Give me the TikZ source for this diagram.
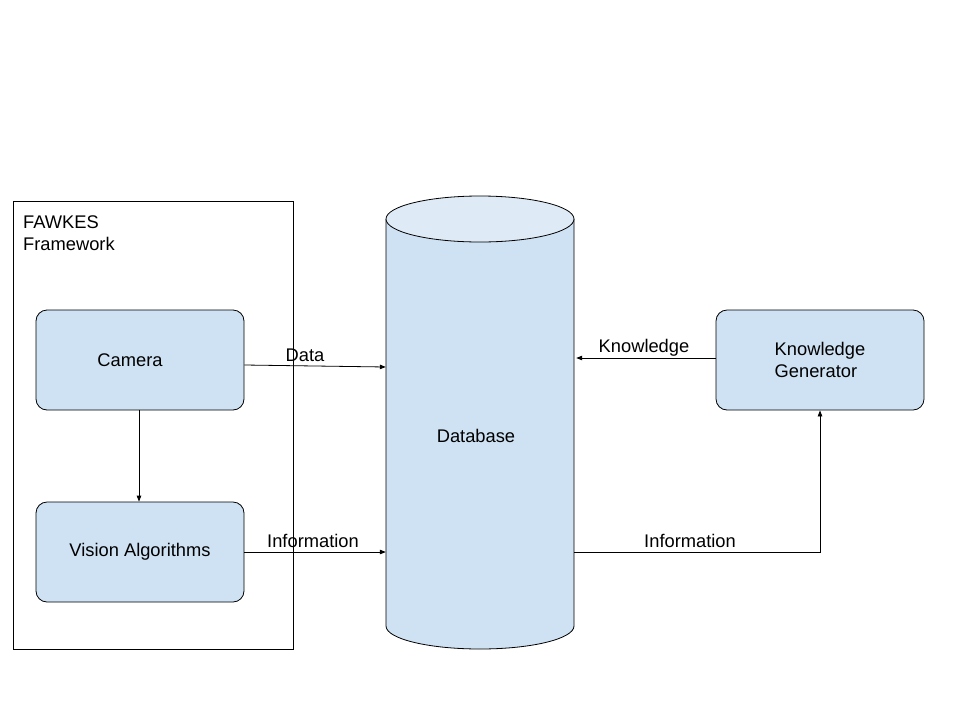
\documentclass[tikz,border=0pt]{standalone}
\usepackage{fontspec}
\setmainfont{Liberation Sans}
\usetikzlibrary{arrows.meta,calc}
\definecolor{boxfill}{HTML}{CFE2F3}
\definecolor{topfill}{HTML}{DEEAF6}
\begin{document}
\begin{tikzpicture}[x=1pt,y=-1pt,
  txt/.style={font=\fontsize{18.3}{22}\selectfont},
  box/.style={draw, fill=boxfill, rounded corners=11pt, minimum width=208pt, minimum height=100pt, line width=0.8pt, txt, align=left},
  conn/.style={-{Triangle[length=6pt,width=4.5pt]}, line width=0.8pt},
  lbl/.style={txt, inner sep=0pt}]
\useasboundingbox (0,0) rectangle (960,720);
% frame
\node[draw, line width=0.8pt, minimum width=280pt, minimum height=448pt, inner sep=0pt] (frame) at (153,425) {};
\node[txt, align=left, anchor=north west, inner sep=0pt] (fwtxt) at (23,216) {FAWKES\\Framework};
% boxes
\node[box] (cam) at (140,360) {\raisebox{-2pt}{Camera}\hspace*{20pt}};
\node[box] (vis) at (140,552) {\raisebox{-2pt}{Vision Algorithms}};
\node[box] (kg) at (820,360) {Knowledge\\Generator};
% database cylinder
\node[minimum width=188pt, minimum height=453pt, inner sep=0pt] (db) at (480,422.5) {};
\fill[boxfill] (386,219) -- (386,626) arc[start angle=180, end angle=0, x radius=94, y radius=23] -- (574,219) -- cycle;
\draw[line width=0.8pt] (386,219) -- (386,626) arc[start angle=180, end angle=0, x radius=94, y radius=23] -- (574,219);
\draw[line width=0.8pt, fill=topfill] (480,219) ellipse [x radius=94, y radius=23];
\node[txt] (dbtxt) at (476,436) {Database};
% connectors
\draw[conn] ($(cam.east)+(0,5)$) -- ($(db.west |- cam.east)+(0,7)$);
\draw[conn] ($(cam.south)+(-1,0)$) -- ($(vis.north)+(-1,0)$);
\draw[conn] (vis.east) -- (db.west |- vis.east);
\draw[conn] ($(kg.west)+(0,-2)$) -- ($(db.east |- kg.west)+(2,-2)$);
\draw[conn] (db.east |- vis.east) -| (kg.south);
% labels
\node[lbl] (l1) at (305,355) {Data};
\node[lbl] (l2) at (313,541) {Information};
\node[lbl] (l3) at (644,348) {Knowledge};
\node[lbl] (l4) at (690,541) {Information};
\end{tikzpicture}
\end{document}
